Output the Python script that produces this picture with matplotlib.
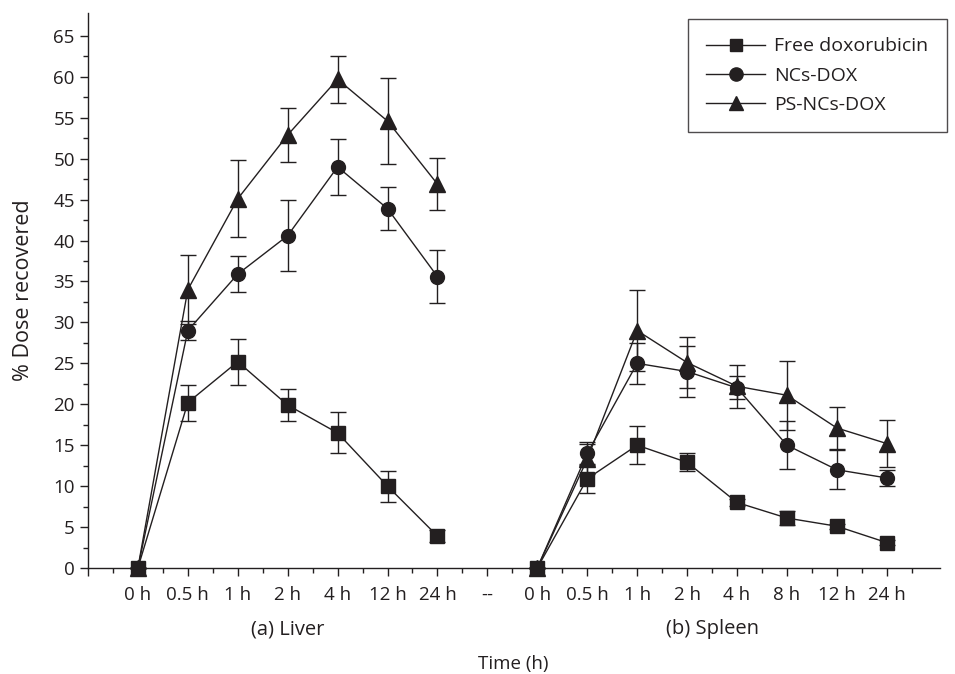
import matplotlib
matplotlib.use('Agg')
import matplotlib.pyplot as plt
import numpy as np

plt.rcParams['font.family'] = ['Open Sans', 'DejaVu Sans']

# tick labels along the categorical time axis
liver_labels = ['0 h', '0.5 h', '1 h', '2 h', '4 h', '12 h', '24 h']
spleen_labels = ['0 h', '0.5 h', '1 h', '2 h', '4 h', '8 h', '12 h', '24 h']
gap_label = '--'

# (a) Liver
liver_free = [0, 20.2, 25.2, 19.9, 16.5, 10.0, 3.9]
liver_free_err = [0, 2.2, 2.8, 2.0, 2.5, 1.9, 0.7]
liver_ncs = [0, 29.0, 35.9, 40.6, 49.0, 43.9, 35.6]
liver_ncs_err = [0, 1.2, 2.2, 4.3, 3.4, 2.6, 3.2]
liver_ps = [0, 34.0, 45.1, 52.9, 59.7, 54.6, 46.9]
liver_ps_err = [0, 4.2, 4.7, 3.3, 2.9, 5.2, 3.2]

# (b) Spleen
spleen_free = [0, 10.9, 15.0, 12.9, 8.0, 6.1, 5.1, 3.1]
spleen_free_err = [0, 1.8, 2.3, 1.1, 0.4, 0.9, 0.3, 0.3]
spleen_ncs = [0, 14.0, 25.0, 24.0, 22.0, 15.0, 12.0, 11.0]
spleen_ncs_err = [0, 1.4, 2.5, 3.1, 1.4, 2.9, 2.4, 1.0]
spleen_ps = [0, 13.3, 29.0, 25.1, 22.2, 21.1, 17.1, 15.2]
spleen_ps_err = [0, 1.8, 4.9, 3.1, 2.6, 4.2, 2.6, 2.9]

series_names = ['Free doxorubicin', 'NCs-DOX', 'PS-NCs-DOX']
markers = ['s', 'o', '^']
msizes = [9.5, 10, 11]
ink = '#231f20'

x_liver = np.arange(1, len(liver_labels) + 1)
x_spleen = np.arange(len(liver_labels) + 2, len(liver_labels) + 2 + len(spleen_labels))

fig = plt.figure(figsize=(9.55, 6.74), dpi=100)
ax = fig.add_axes([0.0921, 0.1573, 0.8919, 0.8234])

liver = [(liver_free, liver_free_err), (liver_ncs, liver_ncs_err), (liver_ps, liver_ps_err)]
spleen = [(spleen_free, spleen_free_err), (spleen_ncs, spleen_ncs_err), (spleen_ps, spleen_ps_err)]

handles = []
for i in range(3):
    for xs, (ys, es) in ((x_liver, liver[i]), (x_spleen, spleen[i])):
        ax.errorbar(xs, ys, yerr=es, color=ink, lw=1.0, marker=markers[i],
                    ms=msizes[i], mfc=ink, mec=ink, capsize=5.5, capthick=1.0,
                    elinewidth=1.0, clip_on=False, zorder=3)
    h, = ax.plot([], [], color=ink, lw=1.0, marker=markers[i], ms=msizes[i] * 0.95,
                 mfc=ink, mec=ink)
    handles.append(h)

ax.set_xlim(0, 17.06)
ax.set_ylim(0, 67.8)

ticks = list(x_liver) + [len(liver_labels) + 1] + list(x_spleen)
labels = liver_labels + [gap_label] + spleen_labels
ax.set_xticks([0] + ticks)
ax.set_xticklabels([''] + labels)
ax.set_xticks(np.arange(0.5, 17.06, 1.0), minor=True)
ax.set_yticks(np.arange(0, 66, 5))
ax.set_yticks(np.arange(2.5, 67, 5), minor=True)
ax.tick_params(axis='both', which='major', direction='out', length=6, width=1.0,
               colors=ink, labelsize=13.5)
ax.tick_params(axis='both', which='minor', direction='out', length=3.5, width=1.0,
               colors=ink)
ax.tick_params(axis='x', pad=7)

for s in ['top', 'right']:
    ax.spines[s].set_visible(False)
for s in ['left', 'bottom']:
    ax.spines[s].set_linewidth(1.0)
    ax.spines[s].set_color(ink)

ax.set_ylabel('% Dose recovered', fontsize=15.5, color=ink, labelpad=14)
ax.text(4.0, -0.11, '(a) Liver', transform=ax.get_xaxis_transform(),
        ha='center', va='center', fontsize=14.5, color=ink)
ax.text(12.5, -0.11, '(b) Spleen', transform=ax.get_xaxis_transform(),
        ha='center', va='center', fontsize=14.5, color=ink)
ax.text(8.52, -0.173, 'Time (h)', transform=ax.get_xaxis_transform(),
        ha='center', va='center', fontsize=13.5, color=ink)

leg = ax.legend(handles, series_names, loc='upper right', bbox_to_anchor=(1.02, 1.007),
                fontsize=14, frameon=True, fancybox=False, handlelength=3.0,
                borderpad=0.95, labelspacing=0.58, handletextpad=0.5)
leg.get_frame().set_edgecolor(ink)
leg.get_frame().set_linewidth(1.0)
for t in leg.get_texts():
    t.set_color(ink)

fig.savefig('out.png', dpi=100)
